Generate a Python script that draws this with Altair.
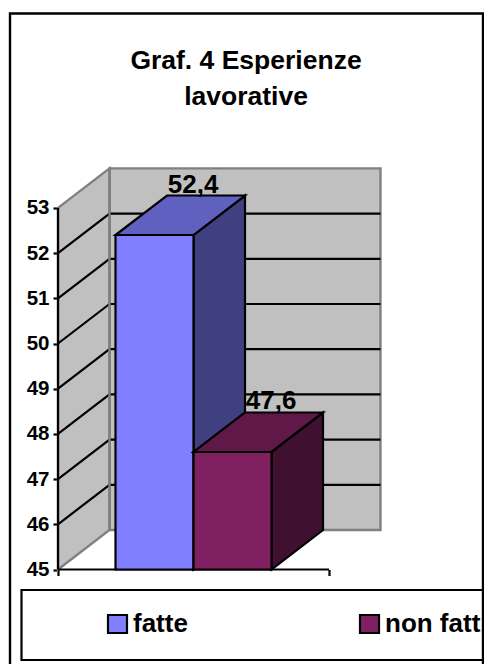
import altair as alt
import pandas as pd

# Survey shares, one clustered category with two series
series = ["fatte", "non fatt"]
values = [52.4, 47.6]
labels = ["52,4", "47,6"]
front_colors = ["#8080FF", "#802060"]
top_colors = ["#6060C0", "#601848"]
side_colors = ["#404080", "#401030"]
y_ticks = [45, 46, 47, 48, 49, 50, 51, 52, 53]
title_lines = ["Graf. 4 Esperienze", "lavorative"]

W, H = 484, 664
FONT = "Liberation Sans"

# Horizontal unit is one bar width (78 px); 0 is the boundary between the bars
UNIT = 78.0
ORIGIN_X = 193.5
PX_PER_VALUE = 45.2
BASE_Y = 569.5
X_LEFT, X_RIGHT = -1.737, 1.737
Y_MIN, Y_MAX = y_ticks[0], y_ticks[-1]
# Oblique depth of the box, in axis units
DEPTH_X = 51.5 / UNIT
DEPTH_Y = 39.5 / PX_PER_VALUE

x_scale = alt.Scale(domain=[-ORIGIN_X / UNIT, (W - ORIGIN_X) / UNIT], range=[0, W], nice=False, zero=False)
y_scale = alt.Scale(
    domain=[Y_MIN - (H - BASE_Y) / PX_PER_VALUE, Y_MIN + BASE_Y / PX_PER_VALUE],
    range=[H, 0], nice=False, zero=False,
)
X = alt.X("x:Q", scale=x_scale, title=None, axis=None)
Y = alt.Y("y:Q", scale=y_scale, title=None, axis=None)
X2 = alt.X2("x2:Q")
Y2 = alt.Y2("y2:Q")

INK = "#000000"
EDGE = "#808080"
WALL = "#C0C0C0"
LW = 2.2


def slanted(x0, lo0, hi0, x1, lo1, hi1, fill, stroke=INK, sw=LW):
    """Face with vertical left and right edges."""
    df = pd.DataFrame({"x": [x0, x1], "y": [hi0, hi1], "y2": [lo0, lo1]})
    return alt.Chart(df).mark_area(fill=fill, stroke=stroke, strokeWidth=sw, opacity=1, interpolate="linear").encode(x=X, y=Y, y2=Y2)


def sheared(y0, left0, right0, y1, left1, right1, fill, stroke=INK, sw=LW):
    """Face with horizontal top and bottom edges."""
    df = pd.DataFrame({"y": [y0, y1], "x": [left0, left1], "x2": [right0, right1]})
    return alt.Chart(df).mark_area(orient="horizontal", fill=fill, stroke=stroke, strokeWidth=sw, opacity=1, interpolate="linear").encode(y=Y, x=X, x2=X2)


def polyline(rows, color=INK, sw=LW):
    df = pd.DataFrame(rows, columns=["x", "y", "k", "o"])
    return alt.Chart(df).mark_line(color=color, strokeWidth=sw, interpolate="linear").encode(x=X, y=Y, detail="k:N", order="o:Q")


layers = []

# Outer frame and legend box
px = alt.Chart(pd.DataFrame({"a": [0]}))
layers.append(px.mark_rect(fill="transparent", stroke=INK, strokeWidth=2.4).encode(
    x=alt.value(10), x2=alt.value(483), y=alt.value(13.5), y2=alt.value(700)))
layers.append(px.mark_rect(fill="transparent", stroke=INK, strokeWidth=2.2).encode(
    x=alt.value(21.5), x2=alt.value(520), y=alt.value(590), y2=alt.value(660)))

# Axes carried by the shared scales, pulled inward from the view edges
axis_anchor = alt.Chart(pd.DataFrame({"x": [X_LEFT, X_RIGHT], "y": [Y_MIN, Y_MAX]})).mark_point(opacity=0).encode(
    x=alt.X("x:Q", scale=x_scale, title=None, axis=alt.Axis(
        orient="bottom", values=[X_LEFT, X_RIGHT], offset=-(H - BASE_Y), domain=False, grid=False,
        labels=False, tickSize=6, tickWidth=LW, tickColor=INK)),
    y=alt.Y("y:Q", scale=y_scale, title=None, axis=alt.Axis(
        orient="left", values=y_ticks, offset=-(ORIGIN_X + X_LEFT * UNIT), domain=False, grid=False,
        tickSize=5, tickWidth=LW, tickColor=INK, labelPadding=4, labelFont=FONT, labelFontSize=20.5,
        labelFontWeight="bold", labelColor=INK, labelOverlap=False, format="d")),
)
layers.append(axis_anchor)

# Back wall and left wall
back_left = X_LEFT + DEPTH_X
back_right = X_RIGHT + DEPTH_X
wall_df = pd.DataFrame({"x": [back_left], "x2": [back_right], "y": [Y_MIN + DEPTH_Y], "y2": [Y_MAX + DEPTH_Y]})
layers.append(alt.Chart(wall_df).mark_rect(fill=WALL, stroke=EDGE, strokeWidth=2.4).encode(x=X, x2=X2, y=Y, y2=Y2))
layers.append(slanted(X_LEFT, Y_MIN, Y_MAX, back_left, Y_MIN + DEPTH_Y, Y_MAX + DEPTH_Y, WALL, EDGE, 2.4))

# Gridlines run across the left wall and on along the back wall
grid_rows = []
for t in y_ticks[1:-1]:
    grid_rows += [
        (X_LEFT, t, t, 0),
        (back_left, t + DEPTH_Y, t, 1),
        (back_right, t + DEPTH_Y, t, 2),
    ]
layers.append(polyline(grid_rows))

# Wall corner stays grey above the gridlines
layers.append(polyline([(back_left, Y_MIN + DEPTH_Y, "c", 0), (back_left, Y_MAX + DEPTH_Y, "c", 1)], EDGE, 2.4))

# Value axis line and category baseline
layers.append(polyline([(X_LEFT, Y_MIN, "a", 0), (X_LEFT, Y_MAX, "a", 1)]))
layers.append(polyline([(X_LEFT, Y_MIN, "b", 0), (X_RIGHT, Y_MIN, "b", 1)]))

# The 3D bars, each drawn back to front
for i, v in enumerate(values):
    x0, x1 = i - 1, i
    layers.append(slanted(x1, Y_MIN, v, x1 + DEPTH_X, Y_MIN + DEPTH_Y, v + DEPTH_Y, side_colors[i]))
    layers.append(sheared(v, x0, x1, v + DEPTH_Y, x0 + DEPTH_X, x1 + DEPTH_X, top_colors[i]))
    front = pd.DataFrame({"x": [x0], "x2": [x1], "y": [Y_MIN], "y2": [v]})
    layers.append(alt.Chart(front).mark_rect(fill=front_colors[i], stroke=INK, strokeWidth=LW).encode(x=X, x2=X2, y=Y, y2=Y2))

# Value labels sit on the rear edge of each bar top
label_df = pd.DataFrame({
    "x": [i - 0.5 + DEPTH_X * 0.75 for i in range(len(values))],
    "y": [v + DEPTH_Y for v in values],
    "t": labels,
})
layers.append(alt.Chart(label_df).mark_text(
    font=FONT, fontSize=26, fontWeight="bold", color=INK, align="center", baseline="alphabetic", dy=-3
).encode(x=X, y=Y, text="t:N"))

# Layout helpers working directly in page pixels
page_x = alt.Scale(domain=[0, W], range=[0, W])
page_y = alt.Scale(domain=[0, H], range=[0, H])

# Title
title_df = pd.DataFrame({"t": title_lines, "px": [246, 246], "py": [69, 105]})
layers.append(alt.Chart(title_df).mark_text(
    font=FONT, fontSize=26.5, fontWeight="bold", color=INK, align="center", baseline="alphabetic"
).encode(
    x=alt.X("px:Q", scale=page_x, axis=None),
    y=alt.Y("py:Q", scale=page_y, axis=None),
    text="t:N",
))

# Legend entries
legend_df = pd.DataFrame({
    "t": series,
    "c": front_colors,
    "sx": [108, 360],
    "sx2": [127, 379],
    "tx": [133, 385],
})
swatches = alt.Chart(legend_df.assign(y=615, y2=633)).mark_rect(stroke=INK, strokeWidth=2.2).encode(
    x=alt.X("sx:Q", scale=page_x, axis=None),
    x2="sx2:Q",
    y=alt.Y("y:Q", scale=page_y, axis=None),
    y2="y2:Q",
    fill=alt.Fill("c:N", scale=None),
)
layers.append(swatches)
layers.append(alt.Chart(legend_df.assign(y=632)).mark_text(
    font=FONT, fontSize=26, fontWeight="bold", color=INK, align="left", baseline="alphabetic"
).encode(
    x=alt.X("tx:Q", scale=page_x, axis=None),
    y=alt.Y("y:Q", scale=page_y, axis=None),
    text="t:N",
))

# Right edge of the frame
layers.append(px.mark_rect(fill=INK).encode(x=alt.value(482), x2=alt.value(484), y=alt.value(13), y2=alt.value(H)))

chart = alt.layer(*layers).resolve_scale(x="independent", y="independent").properties(
    width=W, height=H, padding=0, background="#FFFFFF",
    autosize=alt.AutoSizeParams(type="none"),
).configure_view(stroke=None)

chart.save("out.html", embed_options={"renderer": "svg", "actions": False})
